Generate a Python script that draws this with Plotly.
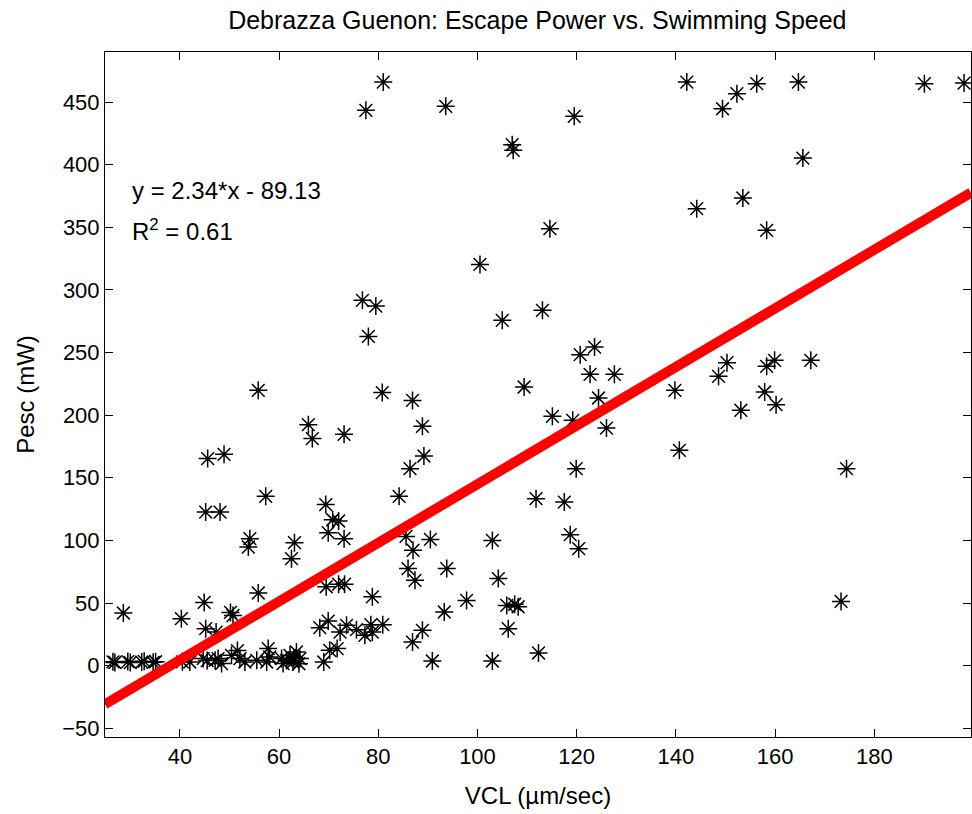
import plotly.graph_objects as go

# VCL (um/sec)
vcl = [
    81.0, 77.5, 93.6, 119.5, 107.0, 107.2, 114.6, 100.5, 142.2, 149.4, 152.3, 156.3, 164.7, 190.1, 198.1,
    165.6, 144.2, 153.5, 158.3,
    76.8, 79.5, 78.0, 80.8, 55.8, 65.9, 66.7, 73.1, 45.6, 48.9, 57.3, 45.2, 48.1, 69.4, 70.8, 72.0,
    69.9, 73.1, 54.1, 53.8, 63.1, 62.5, 84.2, 105.0, 113.1, 120.7, 123.6, 122.7, 127.6, 109.4, 124.4,
    86.9, 88.9, 115.1, 119.2, 126.0, 89.2, 86.4, 119.9, 111.8, 117.5, 139.8, 140.7, 85.6, 87.0, 90.5,
    103.0, 118.7, 120.4, 150.3, 148.6, 158.3, 159.9, 167.2, 157.9, 160.2, 153.1, 174.4, 173.3,
    93.8, 104.2, 97.8, 93.3, 105.9, 107.5, 108.2, 106.2, 88.9, 86.9, 90.9, 103.0, 112.3, 80.9, 86.0, 87.4,
    28.6, 44.9, 40.3, 50.2, 50.7, 45.2, 47.3, 55.8, 69.5, 72.0, 73.2, 78.8, 68.2, 69.9, 72.3, 73.6,
    75.6, 77.3, 78.5, 78.8, 70.2, 71.7, 69.0,
    26.5, 26.9, 29.5, 30.0, 32.3, 32.8, 34.6, 35.1, 40.5, 42.0, 44.7, 45.5, 47.1, 47.7, 48.4, 50.4,
    51.6, 52.1, 53.1, 55.5, 57.8, 58.1, 57.5, 60.5, 60.8, 62.2, 63.5, 62.8, 64.2, 61.5, 63.0, 64.0,
]

# Pesc (mW)
pesc = [
    466.0, 443.4, 446.6, 438.6, 416.0, 411.5, 348.9, 320.4, 466.0, 444.7, 456.7, 464.7, 466.0, 464.7, 465.2,
    405.3, 364.9, 373.4, 347.6,
    291.7, 287.1, 262.9, 218.0, 219.8, 192.4, 181.3, 184.7, 165.3, 168.7, 135.2, 122.6, 122.6, 128.6, 116.5, 115.5,
    106.2, 101.4, 101.4, 94.7, 98.2, 85.4, 135.2, 275.7, 283.7, 248.3, 254.4, 232.6, 232.6, 222.5, 213.7,
    211.8, 191.1, 199.1, 195.9, 189.7, 167.4, 157.3, 157.3, 133.3, 130.6, 219.8, 171.9, 103.2, 92.1, 100.8,
    100.0, 104.6, 93.4, 241.9, 231.0, 239.0, 243.8, 243.8, 218.5, 208.4, 203.9, 157.3, 51.3,
    77.5, 69.5, 52.1, 42.8, 48.1, 49.0, 47.0, 29.5, 28.2, 18.8, 3.7, 3.7, 10.1, 32.7, 77.5, 68.1,
    42.0, 50.5, 37.5, 42.5, 40.0, 29.5, 26.8, 58.0, 63.0, 65.0, 65.0, 54.9, 30.3, 35.6, 26.8, 32.2,
    28.7, 24.2, 32.7, 26.8, 12.2, 13.6, 2.9,
    3.0, 2.5, 3.2, 2.4, 2.8, 3.4, 2.6, 3.1, 3.0, 2.9, 5.6, 4.0, 4.2, 5.6, 1.6, 8.2,
    12.0, 5.6, 2.9, 4.2, 13.6, 6.9, 2.9, 5.6, 1.6, 8.2, 10.9, 2.9, 5.6, 4.0, 6.0, 1.5,
]

fit_slope = 2.34
fit_intercept = -89.13
r_squared = 0.61

x_limits = [24.9, 199.5]
y_limits = [-57, 490]
x_ticks = [40, 60, 80, 100, 120, 140, 160, 180]
y_ticks = [-50, 0, 50, 100, 150, 200, 250, 300, 350, 400, 450]

fit_x = x_limits
fit_y = [fit_slope * v + fit_intercept for v in fit_x]

FONT = "Liberation Sans, Arial, sans-serif"

fig = go.Figure()
fig.add_trace(go.Scatter(
    x=vcl, y=pesc, mode="markers",
    marker=dict(symbol="asterisk-open", size=15, color="black",
                line=dict(color="black", width=1.5)),
    showlegend=False,
))
fig.add_trace(go.Scatter(
    x=fit_x, y=fit_y, mode="lines",
    line=dict(color="#ff0000", width=10),
    showlegend=False,
))

fig.add_annotation(x=29.9, y=379.5, xref="x", yref="y",
                   text=f"y = {fit_slope:.2f}*x - {abs(fit_intercept):.2f}",
                   showarrow=False, xanchor="left", yanchor="middle",
                   font=dict(family=FONT, size=24, color="black"))
fig.add_annotation(x=29.9, y=347.6, xref="x", yref="y",
                   text=f"R<sup>2</sup> = {r_squared:.2f}",
                   showarrow=False, xanchor="left", yanchor="middle",
                   font=dict(family=FONT, size=24, color="black"))

axis_common = dict(
    showline=True, linecolor="black", linewidth=1, mirror="ticks",
    ticks="inside", ticklen=8, tickwidth=1, tickcolor="black",
    showgrid=False, zeroline=False,
    tickfont=dict(family=FONT, size=22, color="black"),
)

fig.update_layout(
    width=972, height=814,
    margin=dict(l=105, r=1, t=52, b=77),
    paper_bgcolor="white", plot_bgcolor="white",
    title=dict(text="Debrazza Guenon: Escape Power vs. Swimming Speed",
               x=0.5528, xanchor="center", y=0.975, yanchor="middle",
               font=dict(family=FONT, size=25, color="black")),
    xaxis=dict(range=x_limits, tickvals=x_ticks,
               title=dict(text="VCL (µm/sec)", standoff=18,
                          font=dict(family=FONT, size=24, color="black")),
               **axis_common),
    yaxis=dict(range=y_limits, tickvals=y_ticks,
               title=dict(text="Pesc (mW)", standoff=20,
                          font=dict(family=FONT, size=24, color="black")),
               **axis_common),
)

fig.write_html("out.html")
